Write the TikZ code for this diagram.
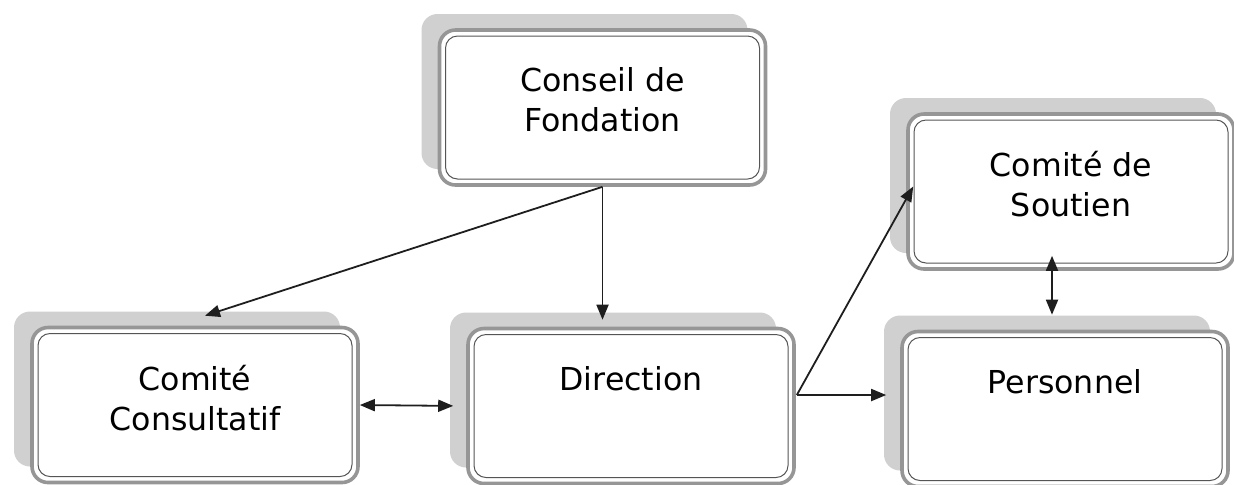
\documentclass[tikz,border=0pt]{standalone}
\usepackage{fontspec}
\setmainfont{DejaVu Sans}
\usepackage{xcolor}
\usepackage{tikz}
\usetikzlibrary{shapes}
\usetikzlibrary{arrows.meta}
\usetikzlibrary{shadows}

\definecolor{boxline}{RGB}{150,150,150}
\definecolor{boxinner}{RGB}{85,85,85}
\definecolor{shade}{RGB}{208,208,208}
\definecolor{wire}{RGB}{30,30,30}
\newcommand\unitfont{\fontsize{15.8pt}{20pt}\selectfont}

\tikzset{
	unit/.style={draw=boxline, line width=1.8pt, fill=white, rounded corners=8pt,
		minimum width=163pt, minimum height=77.5pt, inner sep=0pt,
		drop shadow={shadow xshift=-9pt, shadow yshift=8pt, fill=shade, opacity=1},
		path picture={\draw[boxinner, line width=0.5pt, rounded corners=6pt]
			([shift={(3pt,3pt)}]path picture bounding box.south west) rectangle
			([shift={(-3pt,-3pt)}]path picture bounding box.north east);},
		label={[anchor=north, yshift=-19.5pt, inner sep=0pt, align=center, font=\unitfont]north:#1}},
	link/.style={draw=wire, line width=0.9pt, -{Triangle[length=7.5pt,width=6pt]}},
	twoway/.style={draw=wire, line width=0.9pt, {Triangle[length=7.5pt,width=6pt]}-{Triangle[length=7.5pt,width=6pt]}}
}

\begin{document}
\begin{tikzpicture}[x=0.5pt,y=0.5pt,yscale=-1,xscale=1]
		\useasboundingbox (0,0) rectangle (1234,484);
		
		%Boxes
		\node [unit={Conseil de\\Fondation}] (conseil) at (602.5,107.5) {};
		\node [unit={Comité\\Consultatif}] (consult) at (195,405) {};
		\node [unit={Direction}] (direction) at (631,406) {};
		\node [unit={Comité de\\Soutien}] (soutien) at (1071,191.5) {};
		\node [unit={Personnel}] (personnel) at (1065,409) {};
		
		%Arrows from the top box
		\draw [link, shorten >=3.5pt] (conseil.south) -- (conseil.south |- direction.north) ;
		\draw [link] (conseil.south) -- ([shift={(10,-10)}]consult.north) ;
		%Double arrows
		\draw [twoway, shorten >=6.5pt] (consult.east) -- (direction.west) ;
		\draw [twoway] ([shift={(-19,-15)}]soutien.south) -- ([shift={(-19,-15)}]soutien.south |- personnel.north) ;
		%Arrows from Direction
		\coordinate (fork) at ([shift={(1,-11)}]direction.east) ;
		\draw [link, shorten >=7pt] (fork) -- (fork -| personnel.west) ;
		\draw [link] (fork) -- ([shift={(7,-5)}]soutien.west) ;
		
\end{tikzpicture}
\end{document}
